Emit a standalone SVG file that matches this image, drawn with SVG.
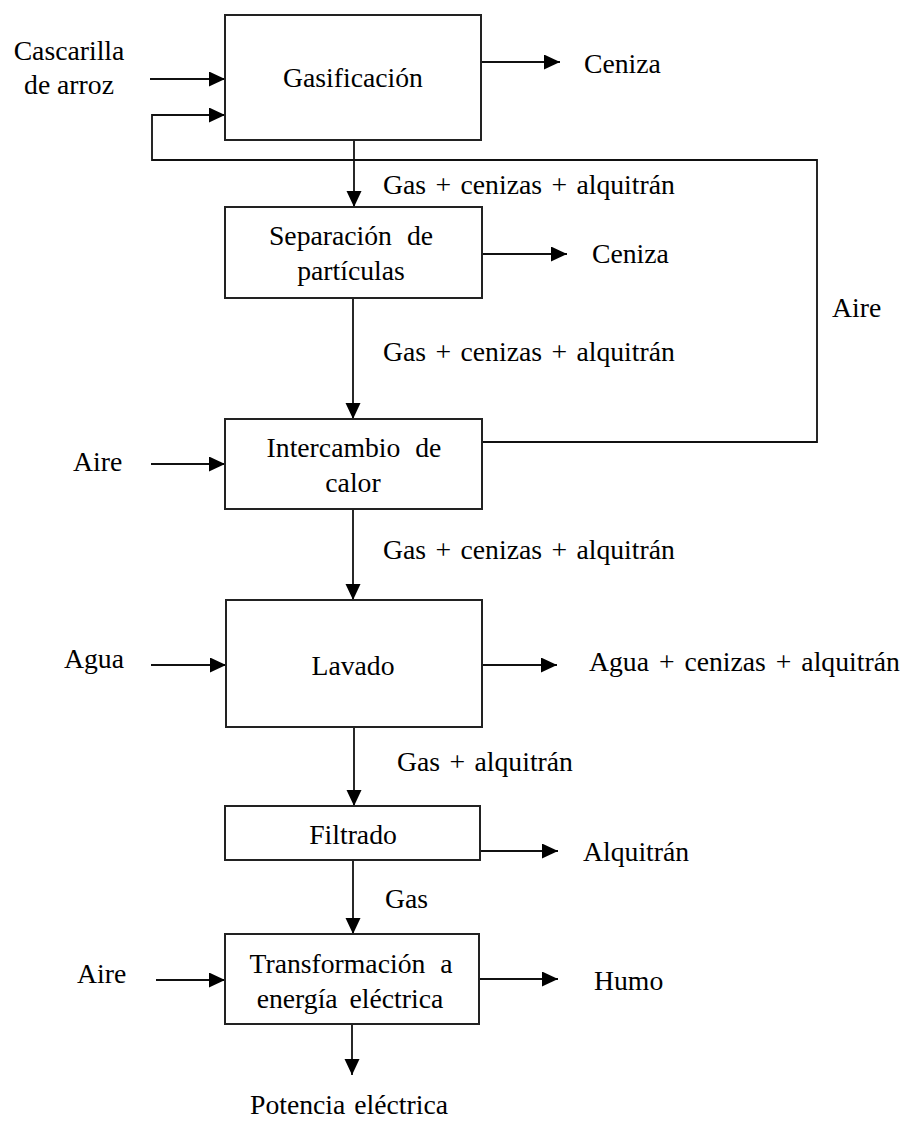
<svg xmlns="http://www.w3.org/2000/svg" width="905" height="1121" viewBox="0 0 905 1121">
<style>
text{font-family:"Liberation Serif","Times New Roman",serif;font-size:27.7px;fill:#000}
.box{fill:#fff;stroke:#222;stroke-width:2}
.ln{fill:none;stroke:#111;stroke-width:1.8}
.c{text-anchor:middle}
.ws{word-spacing:2.5px}
.wl{word-spacing:8px}
</style>
<defs>
<marker id="ah" markerUnits="userSpaceOnUse" markerWidth="17" markerHeight="16" refX="16" refY="7.5" orient="auto">
<path d="M0,0 L16,7.5 L0,15 z" fill="#000"/>
</marker>
</defs>
<g id="connectors">
<line class="ln" x1="150" y1="79" x2="225" y2="79" marker-end="url(#ah)"/>
<polyline class="ln" points="482,442 817,442 817,160 152,160 152,115 225,115" marker-end="url(#ah)"/>
<line class="ln" x1="481" y1="62" x2="560" y2="62" marker-end="url(#ah)"/>
<line class="ln" x1="354" y1="140" x2="354" y2="207" marker-end="url(#ah)"/>
<line class="ln" x1="482" y1="254" x2="567" y2="254" marker-end="url(#ah)"/>
<line class="ln" x1="353" y1="298" x2="353" y2="419" marker-end="url(#ah)"/>
<line class="ln" x1="151" y1="464" x2="225" y2="464" marker-end="url(#ah)"/>
<line class="ln" x1="353" y1="509" x2="353" y2="600" marker-end="url(#ah)"/>
<line class="ln" x1="151" y1="665" x2="226" y2="665" marker-end="url(#ah)"/>
<line class="ln" x1="482" y1="665" x2="557" y2="665" marker-end="url(#ah)"/>
<line class="ln" x1="354" y1="727" x2="354" y2="806" marker-end="url(#ah)"/>
<line class="ln" x1="480" y1="851" x2="558" y2="851" marker-end="url(#ah)"/>
<line class="ln" x1="353" y1="860" x2="353" y2="934" marker-end="url(#ah)"/>
<line class="ln" x1="156" y1="980" x2="225" y2="980" marker-end="url(#ah)"/>
<line class="ln" x1="479" y1="979" x2="558" y2="979" marker-end="url(#ah)"/>
<line class="ln" x1="352" y1="1024" x2="352" y2="1075" marker-end="url(#ah)"/>
</g>
<g id="labels">
<text class="c" x="69" y="60">Cascarilla</text>
<text class="c" x="69" y="94">de arroz</text>
<text x="584" y="73">Ceniza</text>
<text class="ws" x="383" y="194">Gas + cenizas + alquitrán</text>
<text x="592" y="263">Ceniza</text>
<text x="832" y="317">Aire</text>
<text class="ws" x="383" y="361">Gas + cenizas + alquitrán</text>
<text x="73" y="471">Aire</text>
<text class="ws" x="383" y="559">Gas + cenizas + alquitrán</text>
<text x="64" y="668">Agua</text>
<text x="589" y="671" style="word-spacing:3px">Agua + cenizas + alquitrán</text>
<text class="ws" x="397" y="771">Gas + alquitrán</text>
<text x="583" y="861">Alquitrán</text>
<text x="385" y="908">Gas</text>
<text x="77" y="983">Aire</text>
<text x="594" y="990">Humo</text>
<text x="250" y="1114" style="word-spacing:2px">Potencia eléctrica</text>
</g>
<g id="gasificacion">
<rect class="box" x="225" y="15" width="256" height="125"/>
<text class="c" x="353" y="87">Gasificación</text>
</g>
<g id="separacion">
<rect class="box" x="225" y="207" width="257" height="91"/>
<text class="c wl" x="351" y="245">Separación de</text>
<text class="c" x="351" y="280">partículas</text>
</g>
<g id="intercambio">
<rect class="box" x="225" y="419" width="257" height="90"/>
<text class="c wl" x="354" y="457">Intercambio de</text>
<text class="c" x="353" y="492">calor</text>
</g>
<g id="lavado">
<rect class="box" x="226" y="600" width="256" height="127"/>
<text class="c" x="353" y="675">Lavado</text>
</g>
<g id="filtrado">
<rect class="box" x="225" y="806" width="255" height="54"/>
<text class="c" x="353" y="844">Filtrado</text>
</g>
<g id="transformacion">
<rect class="box" x="225" y="934" width="254" height="90"/>
<text class="c wl" x="351" y="973">Transformación a</text>
<text class="c" x="350" y="1008" style="word-spacing:5px">energía eléctrica</text>
</g>
</svg>
